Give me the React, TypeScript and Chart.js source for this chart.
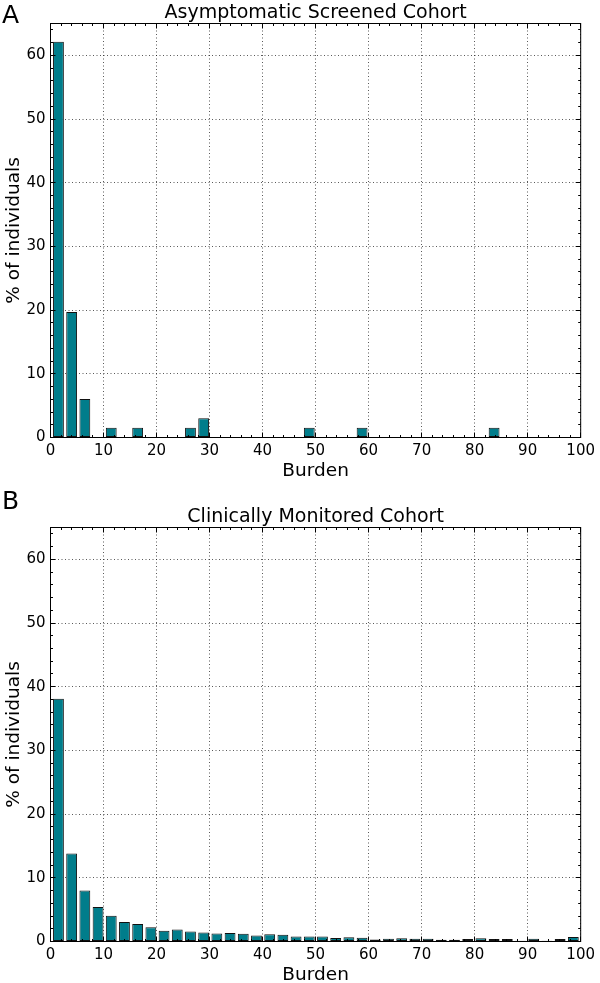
import React, { useEffect, useRef } from 'react';
import { Chart, registerables } from 'chart.js';

Chart.register(...registerables);

// Histogram bin centres (Burden), 40 bins of width ~2.49
const binCenters = [
  1.5, 3.99, 6.48, 8.97, 11.46, 13.95, 16.44, 18.93, 21.42, 23.91,
  26.4, 28.89, 31.38, 33.87, 36.36, 38.85, 41.34, 43.83, 46.32, 48.81,
  51.3, 53.79, 56.28, 58.77, 61.26, 63.75, 66.24, 68.73, 71.22, 73.71,
  76.2, 78.69, 81.18, 83.67, 86.16, 88.65, 91.14, 93.63, 96.12, 98.61,
];

// Panel A: Asymptomatic Screened Cohort (% of individuals)
const screenedPct = [
  62.12, 19.7, 6.06, 0, 1.52, 0, 1.52, 0, 0, 0,
  1.52, 3.03, 0, 0, 0, 0, 0, 0, 0, 1.52,
  0, 0, 0, 1.52, 0, 0, 0, 0, 0, 0,
  0, 0, 0, 1.52, 0, 0, 0, 0, 0, 0,
];

// Panel B: Clinically Monitored Cohort (% of individuals)
const monitoredPct = [
  38.1, 13.8, 8.0, 5.42, 4.03, 3.05, 2.75, 2.22, 1.7, 1.9,
  1.58, 1.4, 1.25, 1.35, 1.22, 0.95, 1.15, 1.07, 0.8, 0.78,
  0.78, 0.55, 0.65, 0.57, 0.3, 0.42, 0.52, 0.42, 0.42, 0.26,
  0.26, 0.38, 0.52, 0.4, 0.38, 0.1, 0.42, 0.1, 0.4, 0.72,
];

const xTickValues = [0, 10, 20, 30, 40, 50, 60, 70, 80, 90, 100];
const yTickValues = [0, 10, 20, 30, 40, 50, 60];

const FONT = '"DejaVu Sans", "Liberation Sans", sans-serif';
const BAR_COLOR = '#007d8b';

type PanelProps = {
  height: number;
  plotTop: number;
  plotBottom: number;
  letter: string;
  letterBaseline: number;
  title: string;
  values: number[];
};

function Panel({ height, plotTop, plotBottom, letter, letterBaseline, title, values }: PanelProps) {
  const ref = useRef<HTMLCanvasElement | null>(null);

  useEffect(() => {
    if (!ref.current) return;
    const plotLeft = 50.5;
    const plotRight = 584.5;

    const decor = {
      id: 'decor',
      afterDraw(chart: any) {
        const { ctx, chartArea: a, scales } = chart;
        const xs = scales.x;
        const ys = scales.y;
        ctx.save();
        ctx.strokeStyle = '#000';
        ctx.lineWidth = 1;
        ctx.strokeRect(a.left, a.top, a.right - a.left, a.bottom - a.top);
        ctx.beginPath();
        for (let v = 0; v <= 100; v += 2) {
          const px = Math.floor(xs.getPixelForValue(v)) + 0.5;
          const len = v % 10 === 0 ? 5 : 2.5;
          ctx.moveTo(px, a.bottom);
          ctx.lineTo(px, a.bottom - len);
          ctx.moveTo(px, a.top);
          ctx.lineTo(px, a.top + len);
        }
        for (let v = 0; v <= 64; v += 2) {
          const py = Math.floor(ys.getPixelForValue(v)) + 0.5;
          const len = v % 10 === 0 ? 5 : 2.5;
          ctx.moveTo(a.left, py);
          ctx.lineTo(a.left + len, py);
          ctx.moveTo(a.right, py);
          ctx.lineTo(a.right - len, py);
        }
        ctx.stroke();

        ctx.fillStyle = '#000';
        ctx.textBaseline = 'alphabetic';
        // panel letter
        ctx.font = `25px ${FONT}`;
        ctx.textAlign = 'left';
        ctx.fillText(letter, 2, letterBaseline);
        // title
        ctx.font = `19px ${FONT}`;
        ctx.textAlign = 'center';
        const cx = (a.left + a.right) / 2;
        ctx.fillText(title, cx, a.top - 6);
        // x label
        ctx.font = `18.5px ${FONT}`;
        ctx.fillText('Burden', cx, a.bottom + 38.5);
        // y label
        ctx.save();
        ctx.translate(18.5, (a.top + a.bottom) / 2);
        ctx.rotate(-Math.PI / 2);
        ctx.fillText('% of individuals', 0, 0);
        ctx.restore();
        ctx.restore();
      },
    };

    const chart = new Chart(ref.current, {
      type: 'bar',
      data: {
        datasets: [
          {
            data: binCenters.map((c, i) => ({ x: c, y: values[i] })),
            backgroundColor: BAR_COLOR,
            borderColor: '#111',
            borderWidth: 1,
            borderSkipped: false,
            barPercentage: 0.82,
            categoryPercentage: 1.0,
          },
        ],
      },
      options: {
        animation: false,
        responsive: false,
        devicePixelRatio: 1,
        layout: {
          padding: { left: 0, right: 600 - plotRight, top: plotTop, bottom: 0 },
        },
        plugins: {
          legend: { display: false },
          title: { display: false },
          tooltip: { enabled: false },
        },
        scales: {
          x: {
            type: 'linear',
            min: 0,
            max: 100,
            offset: false,
            afterBuildTicks: (scale: any) => {
              scale.ticks = xTickValues.map((v) => ({ value: v }));
            },
            afterFit: (scale: any) => {
              scale.height = height - plotBottom;
            },
            ticks: {
              autoSkip: false,
              maxRotation: 0,
              padding: 5,
              color: '#000',
              font: { family: FONT, size: 15 },
            },
            grid: {
              offset: false,
              drawTicks: false,
              color: 'rgba(0,0,0,0.65)',
              lineWidth: 1,
            },
            border: { display: false, dash: [1, 2.5] },
          },
          y: {
            type: 'linear',
            min: 0,
            max: 65,
            afterBuildTicks: (scale: any) => {
              scale.ticks = yTickValues.map((v) => ({ value: v }));
            },
            afterFit: (scale: any) => {
              scale.width = plotLeft;
            },
            ticks: {
              padding: 5,
              color: '#000',
              font: { family: FONT, size: 15 },
            },
            grid: {
              drawTicks: false,
              color: 'rgba(0,0,0,0.65)',
              lineWidth: 1,
            },
            border: { display: false, dash: [1, 2.5] },
          },
        },
      },
      plugins: [decor],
    } as any);

    return () => chart.destroy();
  }, [height, plotTop, plotBottom, letter, letterBaseline, title, values]);

  return (
    <canvas
      ref={ref}
      width={600}
      height={height}
      style={{ display: 'block', width: 600, height }}
    />
  );
}

export default function App() {
  return (
    <div style={{ position: 'absolute', left: 0, top: 0, width: 600, height: 983, background: '#fff' }}>
      <Panel
        height={490}
        plotTop={23.5}
        plotBottom={437.5}
        letter="A"
        letterBaseline={23}
        title="Asymptomatic Screened Cohort"
        values={screenedPct}
      />
      <Panel
        height={493}
        plotTop={37.5}
        plotBottom={451.5}
        letter="B"
        letterBaseline={19}
        title="Clinically Monitored Cohort"
        values={monitoredPct}
      />
    </div>
  );
}
